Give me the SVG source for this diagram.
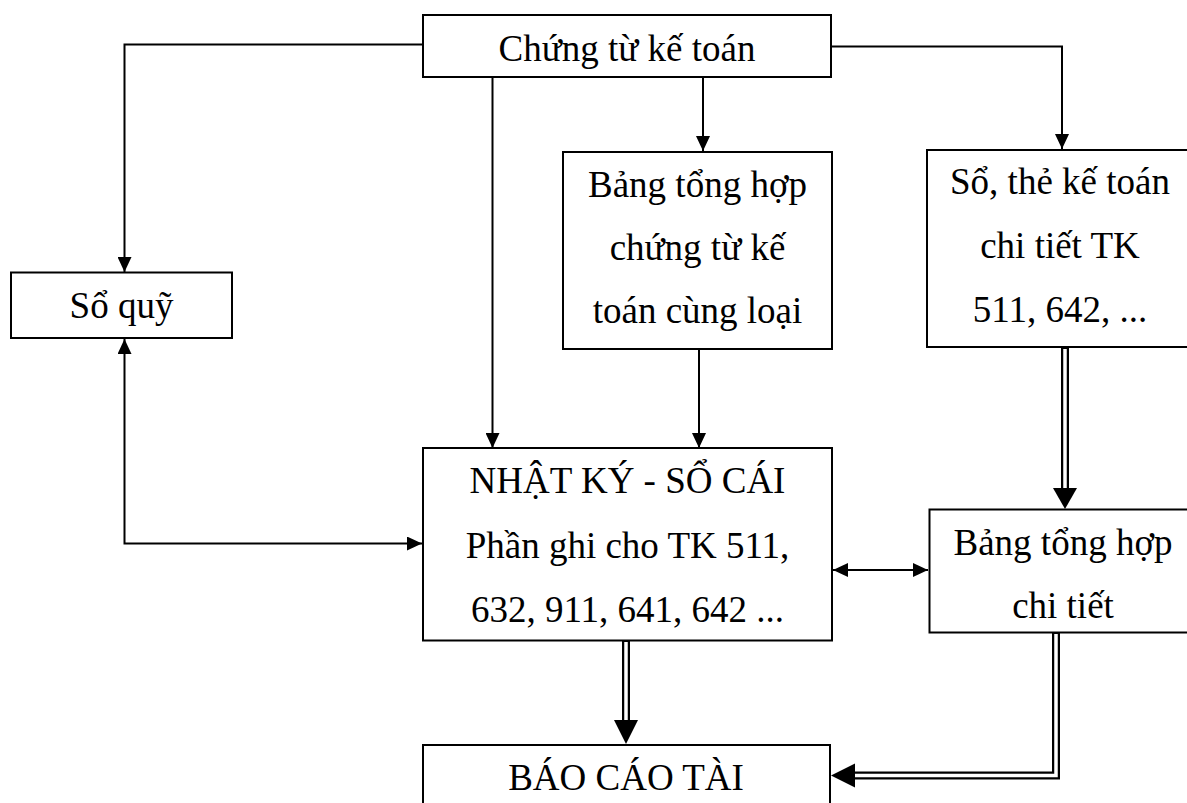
<svg xmlns="http://www.w3.org/2000/svg" width="1187" height="803" viewBox="0 0 1187 803">
  <style>
    .box { fill: #fff; stroke: #000; stroke-width: 2; }
    .lbl { font-family: "Liberation Serif", "Times New Roman", "DejaVu Serif", serif; font-size: 37px; fill: #000; text-anchor: middle; }
    .ln { fill: none; stroke: #000; stroke-width: 2; }
    .dbl-out { fill: none; stroke: #000; stroke-width: 8; stroke-linejoin: miter; }
    .dbl-in { fill: none; stroke: #fff; stroke-width: 3.5; stroke-linejoin: miter; }
    .head { fill: #000; stroke: none; }
  </style>
  <defs>
    <marker id="arr" viewBox="0 0 15 14" refX="15" refY="7" markerWidth="15" markerHeight="14" markerUnits="userSpaceOnUse" orient="auto-start-reverse">
      <path d="M0,0 L15,7 L0,14 z" fill="#000"/>
    </marker>
  </defs>
  <rect width="1187" height="803" fill="#fff"/>

  <g id="connectors">
    <!-- single-line flows -->
    <path class="ln" d="M423,44.5 H124.5 V272" marker-end="url(#arr)"/>
    <path class="ln" d="M492.5,77 V448" marker-end="url(#arr)"/>
    <path class="ln" d="M703,77 V151" marker-end="url(#arr)"/>
    <path class="ln" d="M831,46.5 H1062 V149" marker-end="url(#arr)"/>
    <path class="ln" d="M699,349 V448" marker-end="url(#arr)"/>
    <path class="ln" d="M124.5,339 V543.5 H422" marker-start="url(#arr)" marker-end="url(#arr)"/>
    <path class="ln" d="M833,570 H928" marker-start="url(#arr)" marker-end="url(#arr)"/>

    <!-- double-line flows -->
    <path class="dbl-out" d="M1065,347 V489"/>
    <path class="dbl-in" d="M1065,349 V489"/>
    <polygon class="head" points="1053,488 1077,488 1065,509"/>

    <path class="dbl-out" d="M626,641 V721"/>
    <path class="dbl-in" d="M626,642 V721"/>
    <polygon class="head" points="614,720 638,720 626,744"/>

    <path class="dbl-out" d="M1056,633 V775.5 H854"/>
    <path class="dbl-in" d="M1056,634 V775.5 H854"/>
    <polygon class="head" points="855,763.5 855,787.5 831,775.5"/>
  </g>

  <g id="chung-tu">
    <rect class="box" x="423" y="15" width="408" height="62"/>
    <text class="lbl" x="627" y="61">Chứng từ kế toán</text>
  </g>

  <g id="so-quy">
    <rect class="box" x="11" y="272.5" width="221" height="65.5"/>
    <text class="lbl" x="121.5" y="318">Sổ quỹ</text>
  </g>

  <g id="bang-tong-hop-chung-tu">
    <rect class="box" x="563" y="152" width="269" height="197"/>
    <text class="lbl" x="697.5" y="197">Bảng tổng hợp</text>
    <text class="lbl" x="697.5" y="260">chứng từ kế</text>
    <text class="lbl" x="697.5" y="323">toán cùng loại</text>
  </g>

  <g id="so-the-chi-tiet">
    <rect class="box" x="927" y="150" width="270" height="197"/>
    <text class="lbl" x="1060" y="194">Sổ, thẻ kế toán</text>
    <text class="lbl" x="1060" y="258">chi tiết TK</text>
    <text class="lbl" x="1060" y="322">511, 642, ...</text>
  </g>

  <g id="nhat-ky-so-cai">
    <rect class="box" x="423" y="448" width="409" height="192.5"/>
    <text class="lbl" x="627.5" y="493">NHẬT KÝ - SỔ CÁI</text>
    <text class="lbl" x="627.5" y="558">Phần ghi cho TK 511,</text>
    <text class="lbl" x="627.5" y="622">632, 911, 641, 642 ...</text>
  </g>

  <g id="bang-tong-hop-chi-tiet">
    <rect class="box" x="929.5" y="509.5" width="270" height="123"/>
    <text class="lbl" x="1063" y="555">Bảng tổng hợp</text>
    <text class="lbl" x="1063" y="618">chi tiết</text>
  </g>

  <g id="bao-cao-tai-chinh">
    <rect class="box" x="423" y="745" width="407" height="80"/>
    <text class="lbl" x="626" y="790">BÁO CÁO TÀI</text>
  </g>
</svg>
